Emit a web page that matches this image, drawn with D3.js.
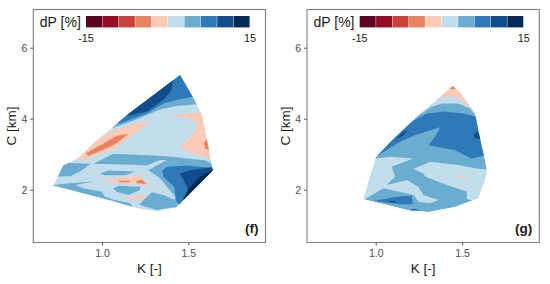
<!DOCTYPE html>
<html>
<head>
<meta charset="utf-8">
<script src="https://cdn.jsdelivr.net/npm/d3@7"></script>
<style>
  body { margin: 0; background: #fff; }
  text { font-family: "Liberation Sans", Arial, sans-serif; }
  .axis path { display: none; }
  .axis line { stroke: #555; }
  .axis text { fill: #4d4d4d; font-size: 10.5px; font-family: "Liberation Sans", Arial, sans-serif; }
</style>
</head>
<body>
<script>
var xTicks = [1.0, 1.5];
var yTicks = [2, 4, 6];
var legendBands = [-13.5, -10.5, -7.5, -4.5, -1.5, 1.5, 4.5, 7.5, 10.5, 13.5];
var legendLabels = [-15, 15];
var bandColors = ["#5e0120", "#950a27", "#c8403a", "#ea8163", "#fccab5", "#c2ddec", "#6bacd1", "#3079b8", "#114d8c", "#042b57"];

// hull of each panel, [K, C]
var outlineF = [[1.452,5.23],[1.525,4.62],[1.577,4.15],[1.61,3.35],[1.625,2.97],[1.641,2.54],[1.452,1.61],[1.423,1.49],[1.317,1.39],[1.22,1.46],[1.046,1.70],[.718,2.12],[.776,2.69],[.863,2.89],[.959,3.35],[1.056,3.73],[1.143,4.10]];
var outlineG = [[1.446,4.92],[1.498,4.67],[1.575,4.15],[1.598,3.59],[1.614,3.21],[1.629,2.92],[1.645,2.52],[1.624,2.17],[1.591,1.75],[1.459,1.51],[1.305,1.37],[1.189,1.42],[1.073,1.56],[.929,1.73],[1.002,2.92],[1.083,3.34],[1.247,4.10],[1.363,4.57]];

// filled contours, painted in order and clipped to the hull
var contoursF = [
  [1.5, outlineF],
  [4.5, [[1.056,3.73],[1.181,3.94],[1.336,4.26],[1.432,4.36],[1.548,4.41],[1.606,4.71],[1.452,5.46],[1.027,3.96]]],
  [7.5, [[1.104,3.87],[1.259,4.15],[1.355,4.43],[1.432,4.53],[1.529,4.62],[1.606,4.81],[1.452,5.46],[1.066,3.87]]],
  [10.5, [[1.153,4.08],[1.259,4.20],[1.355,4.53],[1.403,4.79],[1.409,5.09],[1.259,4.81],[1.124,4.20]]],
  [-1.5, [[1.375,4.06],[1.49,4.15],[1.577,4.18],[1.645,3.59],[1.664,2.84],[1.548,2.99],[1.471,3.15],[1.452,3.30],[1.49,3.35],[1.548,3.73],[1.548,3.92],[1.49,4.04]]],
  [-4.5, [[1.61,3.45],[1.591,3.31],[1.597,3.16],[1.625,3.10],[1.645,3.21],[1.635,3.45]]],
  [-1.5, [[1.288,3.92],[1.181,3.85],[1.056,3.65],[.959,3.35],[.844,2.84],[.863,2.84],[.911,2.87],[1.066,3.15],[1.124,3.34],[1.181,3.56]]],
  [-4.5, [[1.153,3.57],[1.085,3.52],[1.027,3.35],[.940,3.12],[.905,3.01],[.921,2.95],[1.066,3.25],[1.114,3.42]]],
  [4.5, [[.805,2.75],[.934,2.73],[.873,2.51],[.815,2.38],[.741,2.37],[.70,2.50],[.776,2.69]]],
  [4.5, [[.718,2.13],[.815,2.18],[.950,2.23],[.844,2.13],[.892,2.04],[.998,1.94],[1.017,1.80],[1.075,1.71],[1.162,1.62],[1.21,1.33],[1.046,1.62],[.699,2.04]]],
  [4.5, [[.950,2.73],[1.066,3.01],[1.355,2.95],[1.597,2.83],[1.664,2.69],[1.664,2.46],[1.452,1.47],[1.413,1.47],[1.423,1.80],[1.336,2.32],[1.268,2.55],[1.375,2.84],[1.336,2.84],[1.259,2.68],[1.181,2.70]]],
  [7.5, [[1.349,2.54],[1.375,2.65],[1.49,2.68],[1.664,2.60],[1.664,2.46],[1.452,1.57],[1.432,1.66],[1.417,2.08],[1.355,2.37]]],
  [10.5, [[1.452,2.46],[1.510,2.55],[1.664,2.65],[1.664,2.46],[1.50,1.99],[1.481,2.18]]],
  [13.5, [[1.645,2.57],[1.568,2.37],[1.50,2.01],[1.471,1.76],[1.49,1.57],[1.683,2.41]]],
  [4.5, [[.988,2.46],[1.037,2.54],[1.191,2.51],[1.133,2.41],[1.017,2.41]]],
  [-1.5, [[.998,2.29],[1.22,2.41],[1.259,2.18],[1.336,1.99],[1.259,2.13],[1.085,2.18]]],
  [-4.5, [[1.095,2.25],[1.162,2.25],[1.162,2.21],[1.104,2.21]]],
  [-4.5, [[1.197,2.23],[1.23,2.29],[1.259,2.16],[1.205,2.18]]],
  [4.5, [[1.066,2.04],[1.095,2.11],[1.22,2.08],[1.22,1.99],[1.153,1.85],[1.085,1.94]]],
  [-1.5, [[1.124,1.78],[1.249,1.85],[1.259,1.76],[1.181,1.71]]],
  [4.5, [[1.22,1.61],[1.288,1.93],[1.355,1.85],[1.423,1.71],[1.432,1.52],[1.317,1.43],[1.22,1.57]]]
];

var contoursG = [
  [4.5, outlineG],
  [1.5, [[1.266,4.15],[1.324,4.34],[1.382,4.43],[1.479,4.43],[1.546,4.29],[1.585,4.06],[1.653,4.53],[1.446,5.18],[1.266,4.53]]],
  [-1.5, [[1.373,4.60],[1.440,4.64],[1.498,4.53],[1.585,4.10],[1.653,4.53],[1.446,5.18],[1.324,4.62]]],
  [-4.5, [[1.429,4.84],[1.475,4.83],[1.45,5.05]]],
  [7.5, [[1.015,2.97],[1.131,3.32],[1.228,3.54],[1.373,3.76],[1.344,3.49],[1.305,3.25],[1.459,3.11],[1.556,2.87],[1.643,2.98],[1.691,3.21],[1.653,4.10],[1.575,4.06],[1.508,4.15],[1.392,4.20],[1.295,4.15],[1.218,3.94],[1.073,3.45],[.986,2.98]]],
  [10.5, [[1.112,3.42],[1.160,3.63],[1.189,3.68],[1.151,3.49]]],
  [10.5, [[1.566,3.54],[1.585,3.63],[1.624,3.40],[1.575,3.45]]],
  [1.5, [[1.006,2.88],[1.083,2.93],[1.218,2.88],[1.093,2.65],[1.112,2.37],[1.064,2.13],[1.18,2.27],[1.247,2.08],[1.276,1.85],[1.363,1.71],[1.315,1.62],[1.247,1.66],[1.218,1.85],[1.044,2.04],[.929,1.71],[.90,1.80],[.986,2.93]]],
  [1.5, [[1.218,2.58],[1.315,2.79],[1.488,2.69],[1.585,2.60],[1.672,2.55],[1.672,2.27],[1.614,1.66],[1.527,1.73],[1.527,1.94],[1.411,2.13],[1.286,2.37],[1.276,2.46]]],
  [-1.5, [[1.459,2.38],[1.498,2.40],[1.533,2.36],[1.488,2.33]]],
  [7.5, [[.986,1.68],[1.122,1.80],[1.208,1.83],[1.214,1.59],[1.141,1.59],[1.044,1.65]]],
  [10.5, [[1.079,1.68],[1.112,1.68],[1.112,1.63],[1.079,1.64]]],
  [7.5, [[1.195,1.43],[1.218,1.47],[1.257,1.43],[1.218,1.40],[1.199,1.38]]]
];

var width = 550, height = 284;
var plotTop = 9.5, plotBottom = 242.5;

var color = d3.scaleQuantize().domain([-15, 15]).range(bandColors);

var svg = d3.select("body").append("svg")
    .attr("width", width)
    .attr("height", height)
    .style("display", "block");

function drawPanel(id, left, right, outline, contours, tag) {
  var x = d3.scaleLinear().domain([0.602, 1.947]).range([left, right]);
  var y = d3.scaleLinear().domain([0.513, 7.076]).range([plotBottom, plotTop]);
  var line = d3.line().x(function(d) { return x(d[0]); }).y(function(d) { return y(d[1]); }).curve(d3.curveLinearClosed);

  svg.append("clipPath").attr("id", "hull" + id)
    .append("path").attr("d", line(outline));

  svg.append("g").attr("clip-path", "url(#hull" + id + ")")
    .selectAll("path")
    .data(contours)
    .enter().append("path")
      .attr("d", function(d) { return line(d[1]); })
      .attr("fill", function(d) { return color(d[0]); });

  var xAxis = d3.axisBottom(x).tickValues(xTicks).tickSize(3).tickPadding(4).tickFormat(d3.format(".1f"));
  var yAxis = d3.axisLeft(y).tickValues(yTicks).tickSize(3).tickPadding(3).tickFormat(d3.format("d"));

  svg.append("g").attr("class", "axis")
      .attr("transform", "translate(0," + plotBottom + ")")
      .call(xAxis);
  svg.append("g").attr("class", "axis")
      .attr("transform", "translate(" + left + ",0)")
      .call(yAxis);

  svg.append("rect")
      .attr("x", left).attr("y", plotTop)
      .attr("width", right - left).attr("height", plotBottom - plotTop)
      .attr("fill", "none").attr("stroke", "#7f7f7f").attr("stroke-width", 1.1);

  // legend
  var key = d3.scaleBand().domain(legendBands).range([left + 52.7, left + 216.7]);
  svg.selectAll(".key" + id)
      .data(legendBands)
    .enter().append("rect")
      .attr("class", "key" + id)
      .attr("x", function(d) { return key(d); })
      .attr("y", 16)
      .attr("width", key.bandwidth() - 0.4)
      .attr("height", 11.4)
      .attr("fill", function(d) { return color(d); });

  var keyScale = d3.scaleLinear().domain(legendLabels).range([left + 52.7, left + 216.7]);
  svg.selectAll(".lab" + id)
      .data(legendLabels)
    .enter().append("text")
      .attr("class", "lab" + id)
      .attr("x", function(d) { return keyScale(d); })
      .attr("y", 42)
      .attr("text-anchor", "middle")
      .attr("font-size", 10.8)
      .attr("fill", "#1a1a1a")
      .text(function(d) { return d; });

  svg.append("text")
      .attr("x", left + 6.5).attr("y", 27)
      .attr("font-size", 14)
      .attr("fill", "#1a1a1a")
      .text("dP [%]");

  svg.append("text")
      .attr("x", (left + right) / 2).attr("y", 273)
      .attr("text-anchor", "middle")
      .attr("font-size", 13.5)
      .attr("fill", "#1a1a1a")
      .text("K [-]");

  svg.append("text")
      .attr("transform", "translate(" + (left - 17) + "," + ((plotTop + plotBottom) / 2) + ") rotate(-90)")
      .attr("text-anchor", "middle")
      .attr("font-size", 13.5)
      .attr("fill", "#1a1a1a")
      .text("C [km]");

  svg.append("text")
      .attr("x", right - 7).attr("y", 232.5)
      .attr("text-anchor", "end")
      .attr("font-size", 13.5)
      .attr("font-weight", "bold")
      .attr("fill", "#1a1a1a")
      .text(tag);
}

drawPanel("f", 33.3, 265.5, outlineF, contoursF, "(f)");
drawPanel("g", 307, 539.3, outlineG, contoursG, "(g)");
</script>
</body>
</html>
